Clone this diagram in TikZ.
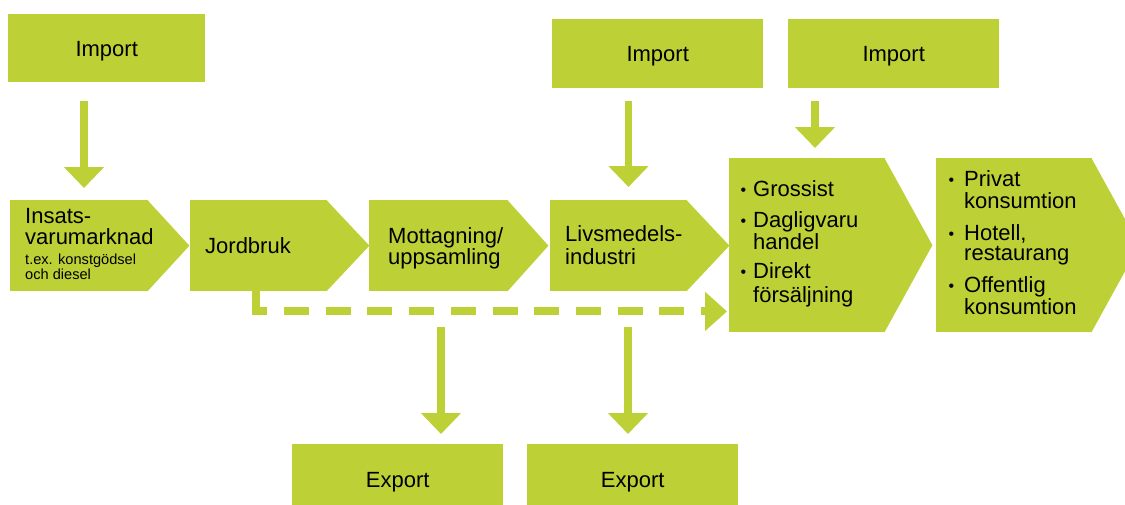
\documentclass[tikz,border=0pt]{standalone}
\usepackage{fontspec}
\setmainfont{Liberation Sans}
\usetikzlibrary{arrows.meta}
\definecolor{lime}{RGB}{189,209,54}
\newcommand\txtbig{\fontsize{22pt}{22pt}\selectfont}
\newcommand\txtsmall{\fontsize{14.6pt}{15pt}\selectfont}
\newcommand\txtbul{\fontsize{16pt}{16pt}\selectfont}
\begin{document}
\begin{tikzpicture}[x=1pt,y=-1pt,
  box/.style={fill=lime, inner sep=0pt, anchor=north west, font=\txtbig,
    text height=16pt, text depth=0pt},
  body/.style={fill=lime, inner sep=0pt, anchor=north west},
  txt/.style={anchor=base west, inner sep=0pt, font=\txtbig},
  bul/.style={anchor=base west, inner sep=0pt, font=\txtbul},
  arr/.style={line width=7.5pt, draw=lime, -{Triangle[length=21pt,width=39pt]}},
  dasharr/.style={line width=8pt, draw=lime, -{Triangle[length=22pt,width=38pt]},
    dash pattern=on 31.5pt off 17pt on 25pt off 16.7pt on 25pt off 16.7pt on 25pt off 16.7pt
      on 25pt off 16.7pt on 25pt off 16.7pt on 25pt off 16.7pt on 25pt off 16.7pt
      on 25pt off 16.7pt on 25pt off 16.7pt on 25pt off 16.7pt on 60pt}
]
\clip (0,0) rectangle (1125,504);
\useasboundingbox (0,0) rectangle (1125,504);

% top boxes
\node[box, minimum width=197pt, minimum height=68pt] (imp1) at (8,14) {Import};
\node[box, minimum width=211pt, minimum height=69pt] (imp2) at (552,19) {Import};
\node[box, minimum width=211pt, minimum height=69pt] (imp3) at (788,19) {Import};

% bottom boxes
\node[box, minimum width=211pt, minimum height=70pt] (exp1) at (292,444) {Export};
\node[box, minimum width=211pt, minimum height=70pt] (exp2) at (527,444) {Export};

% chain bodies
\node[body, minimum width=138pt, minimum height=91pt] (p1) at (10,200) {};
\node[body, minimum width=137pt, minimum height=91pt] (p2) at (190,200) {};
\node[body, minimum width=139pt, minimum height=91pt] (p3) at (369,200) {};
\node[body, minimum width=137pt, minimum height=91pt] (p4) at (550,200) {};
\node[body, minimum width=156pt, minimum height=174pt] (p5) at (729,158) {};
\node[body, minimum width=156pt, minimum height=174pt] (p6) at (936,158) {};

\fill[lime] ([xshift=-1pt]p1.north east) -- ([xshift=41pt]p1.east) -- ([xshift=-1pt]p1.south east) -- cycle;
\fill[lime] ([xshift=-1pt]p2.north east) -- ([xshift=42pt]p2.east) -- ([xshift=-1pt]p2.south east) -- cycle;
\fill[lime] ([xshift=-1pt]p3.north east) -- ([xshift=40pt]p3.east) -- ([xshift=-1pt]p3.south east) -- cycle;
\fill[lime] ([xshift=-1pt]p4.north east) -- ([xshift=42pt]p4.east) -- ([xshift=-1pt]p4.south east) -- cycle;
\fill[lime] ([xshift=-1pt]p5.north east) -- ([xshift=47pt]p5.east) -- ([xshift=-1pt]p5.south east) -- cycle;
\fill[lime] ([xshift=-1pt]p6.north east) -- ([xshift=47pt]p6.east) -- ([xshift=-1pt]p6.south east) -- cycle;

% texts
\node[txt] (t1a) at (25,223) {Insats-};
\node[txt] (t1b) at (25,244) {varumarknad};
\node[txt, font=\txtsmall] (t1c) at (25,264) {t.ex. konstgödsel};
\node[txt, font=\txtsmall] (t1d) at (25,279) {och diesel};
\node[txt] (t2) at (205,253) {Jordbruk};
\node[txt] (t3a) at (388,243) {Mottagning/};
\node[txt] (t3b) at (388,264) {uppsamling};
\node[txt] (t4a) at (565,241) {Livsmedels-};
\node[txt] (t4b) at (565,264) {industri};

\node[bul] (b5a) at (740.5,195) {•};
\node[bul] (b5b) at (740.5,226) {•};
\node[bul] (b5c) at (740.5,277) {•};
\node[txt] (t5a) at (753,196) {Grossist};
\node[txt] (t5b) at (753,227) {Dagligvaru};
\node[txt] (t5c) at (753,249) {handel};
\node[txt] (t5d) at (753,278) {Direkt};
\node[txt] (t5e) at (753,302) {försäljning};

\node[bul] (b6a) at (948.5,185) {•};
\node[bul] (b6b) at (948.5,239) {•};
\node[bul] (b6c) at (948.5,291) {•};
\node[txt] (t6a) at (964,186) {Privat};
\node[txt] (t6b) at (964,208) {konsumtion};
\node[txt] (t6c) at (964,240) {Hotell,};
\node[txt] (t6d) at (964,260) {restaurang};
\node[txt] (t6e) at (964,292) {Offentlig};
\node[txt] (t6f) at (964,314) {konsumtion};

% connectors
\draw[arr] ([xshift=76pt,yshift=-19pt]imp1.south west) -- ([xshift=74pt,yshift=12pt]p1.north west);
\draw[arr] ([xshift=76.5pt,yshift=-13pt]imp2.south west) -- ([xshift=78.5pt,yshift=13pt]p4.north west);
\draw[arr] ([xshift=27pt,yshift=-13pt]imp3.south west) -- ([xshift=86pt,yshift=10pt]p5.north west);
\draw[arr] ([xshift=72pt,yshift=-36pt]p3.south west) -- ([xshift=149pt,yshift=10pt]exp1.north west);
\draw[arr] ([xshift=78pt,yshift=-36pt]p4.south west) -- ([xshift=101pt,yshift=10pt]exp2.north west);
\draw[dasharr] ([xshift=65.5pt]p2.south west) |- ([xshift=-2pt,yshift=21pt]p5.south west);
\end{tikzpicture}
\end{document}
